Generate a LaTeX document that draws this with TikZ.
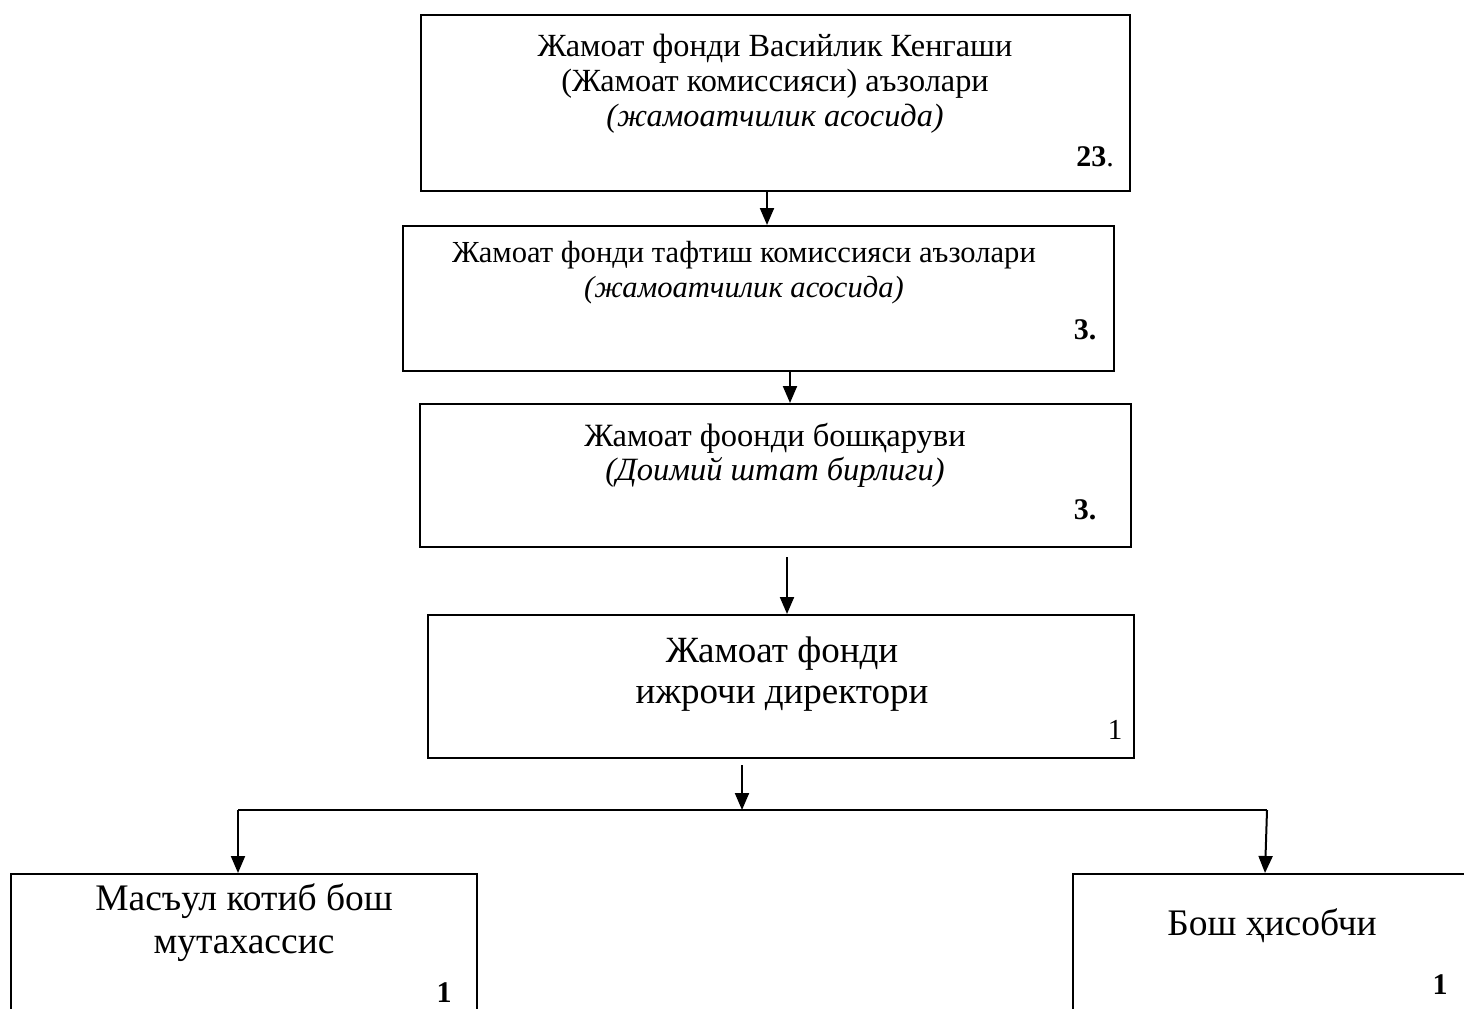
\documentclass[tikz,border=0pt]{standalone}
\usepackage{fontspec}
\setmainfont{Liberation Serif}
\usetikzlibrary{arrows.meta}
\begin{document}
\begin{tikzpicture}[x=1pt,y=-1pt,
  box/.style={draw, line width=2pt, inner sep=0pt, anchor=north west},
  arr/.style={line width=2pt, -{Triangle[width=14pt,length=17pt]}},
  ln/.style={line width=2pt},
  txta/.style={font=\fontsize{32.3}{35}\selectfont, align=center, inner sep=0pt},
  txtb/.style={font=\fontsize{30.6}{35}\selectfont, align=center, inner sep=0pt},
  txtc/.style={font=\fontsize{32.5}{34}\selectfont, align=center, inner sep=0pt},
  bigtxt/.style={font=\fontsize{37}{41}\selectfont, align=center, inner sep=0pt},
  midtxt/.style={font=\fontsize{37.5}{43}\selectfont, align=center, inner sep=0pt},
  num/.style={font=\fontsize{30}{35}\selectfont\bfseries, inner sep=0pt},
  numr/.style={font=\fontsize{29}{35}\selectfont, inner sep=0pt},
]
\useasboundingbox (0,0) rectangle (1464,1009);
\clip (0,0) rectangle (1464,1009);

% boxes
\node[box, minimum width=709pt, minimum height=176pt] (b1) at (420,14) {};
\node[box, minimum width=711pt, minimum height=145pt] (b2) at (402,225) {};
\node[box, minimum width=711pt, minimum height=143pt] (b3) at (419,403) {};
\node[box, minimum width=706pt, minimum height=143pt] (b4) at (427,614) {};
\node[box, minimum width=466pt, minimum height=200pt] (b5) at (10,873) {};
\node[box, minimum width=420pt, minimum height=200pt] (b6) at (1072,873) {};

% texts
\node[txta] (t1) at (775,84) {Жамоат фонди Васийлик Кенгаши\\(Жамоат комиссияси) аъзолари\\\textit{(жамоатчилик асосида)}};
\node[num] (n1) at (1095,157) {23\textmd{.}};

\node[txtb] (t2) at (744,273) {Жамоат фонди тафтиш комиссияси аъзолари\\\textit{(жамоатчилик асосида)}};
\node[num] (n2) at (1085,330) {3.};

\node[txtc] (t3) at (775,455) {Жамоат фоонди бошқаруви\\\textit{(Доимий штат бирлиги)}};
\node[num] (n3) at (1085,510) {3.};

\node[bigtxt] (t4) at (782,674) {Жамоат фонди\\ижрочи директори};
\node[numr] (n4) at (1115,730) {1};

\node[midtxt] (t5) at (244,923) {Масъул котиб бош\\мутахассис};
\node[num] (n5) at (444,993) {1};

\node[midtxt] (t6) at (1272,926) {Бош ҳисобчи};
\node[num] (n6) at (1440,985) {1};

% connectors
\coordinate (j) at (742,810);
\coordinate (jl) at (238,810);
\coordinate (jr) at (1267,810);
\draw[arr] (b1.south -| 767,0) -- (b2.north -| 767,0);
\draw[arr] (b2.south -| 790,0) -- (b3.north -| 790,0);
\draw[arr] ([yshift=-9pt]b3.south -| 787,0) -- (b4.north -| 787,0);
\draw[arr] ([yshift=-6pt]b4.south -| 742,0) -- (j);
\draw[ln] (jl) -- (jr);
\draw[arr] (jl) -- (b5.north -| jl);
\draw[arr] (jr) -- (b6.north -| 1265,0);
\end{tikzpicture}
\end{document}
